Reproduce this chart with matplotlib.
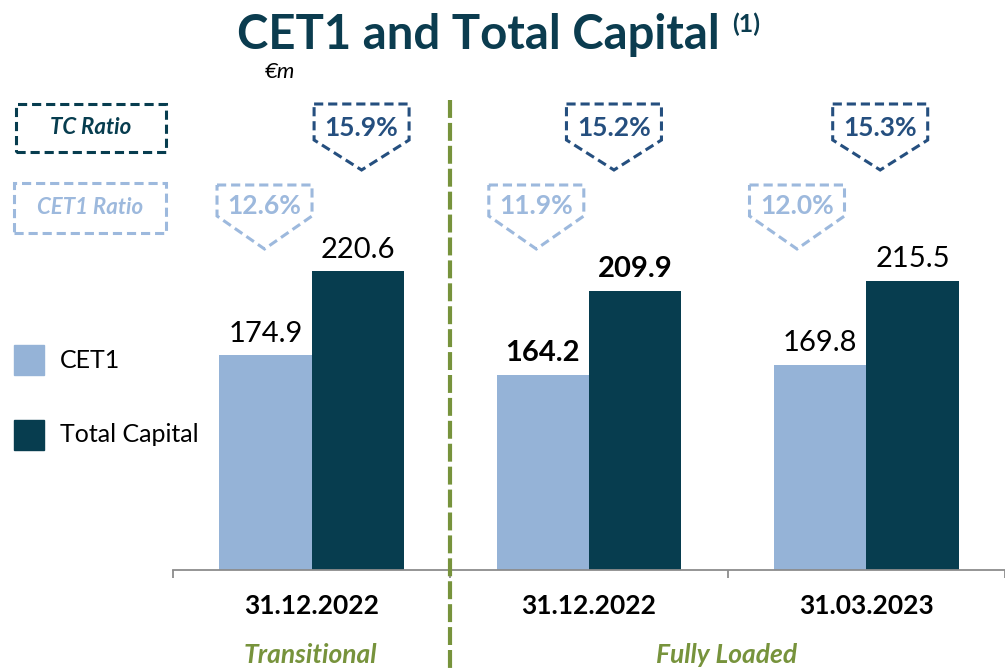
import numpy as np
import matplotlib.pyplot as plt
from matplotlib.patches import Rectangle, Polygon
from matplotlib.lines import Line2D

plt.rcParams['font.family'] = ['Lato', 'DejaVu Sans']

# data
dates = ["31.12.2022", "31.12.2022", "31.03.2023"]
cet1 = [174.9, 164.2, 169.8]
total_capital = [220.6, 209.9, 215.5]
cet1_ratio = ["12.6%", "11.9%", "12.0%"]
tc_ratio = ["15.9%", "15.2%", "15.3%"]
bold_group = [False, True, False]

light_blue = "#95B3D7"
dark_teal = "#073D4F"
title_col = "#0B3C4F"
tc_blue = "#254F7F"
ratio_light = "#9DB9DD"
green = "#77933C"

W, H = 1005, 671
fig = plt.figure(figsize=(W / 100, H / 100), dpi=100)


def fx(px):
    return px / W


def fy(py):
    return 1 - py / H


ax = fig.add_axes([fx(173), fy(570), fx(W - 173), (570 - 90) / H])

x = np.arange(len(dates))
bw = 0.333
ax.bar(x - bw / 2, cet1, bw, color=light_blue)
ax.bar(x + bw / 2, total_capital, bw, color=dark_teal)
ax.set_xlim(-0.5, 2.48)
ax.set_ylim(58, 58 + 480 / 1.838)

for i in range(len(x)):
    fw = "bold" if bold_group[i] else "normal"
    ax.annotate(f"{cet1[i]:.1f}", (x[i] - bw / 2, cet1[i]), xytext=(0, 6),
                textcoords="offset points", ha="center", va="bottom", fontsize=21, fontweight=fw)
    ax.annotate(f"{total_capital[i]:.1f}", (x[i] + bw / 2, total_capital[i]), xytext=(0, 6),
                textcoords="offset points", ha="center", va="bottom", fontsize=21, fontweight=fw)

for s in ["top", "right", "left"]:
    ax.spines[s].set_visible(False)
ax.spines["bottom"].set_color("#8C8C8C")
ax.spines["bottom"].set_linewidth(1.3)
ax.set_yticks([])
ax.set_xticks(x)
ax.set_xticklabels(dates, fontsize=19, fontweight="bold")
ax.tick_params(axis="x", which="major", length=0, pad=17)
ax.set_xticks([-0.5, 0.5, 1.5, 2.5], minor=True)
ax.tick_params(axis="x", which="minor", length=6, width=1.3, color="#8C8C8C")

# pentagon callouts
def pentagon(cx, top, side, tip, width, color, label):
    pts = [(cx - width / 2, top), (cx + width / 2, top), (cx + width / 2, side),
           (cx, tip), (cx - width / 2, side)]
    pts = [(fx(a), fy(b)) for a, b in pts]
    fig.add_artist(Polygon(pts, closed=True, fill=False, edgecolor=color, lw=2.2,
                           linestyle=(0, (3, 1.6)), transform=fig.transFigure))
    fig.text(fx(cx), fy(top + (side - top) * 0.68), label, ha="center", va="center",
             fontsize=19, fontweight="bold", color=color)


tc_off = [0.18, 0.09, 0.05]
cet1_off = [-0.17, -0.19, -0.25]
for i in range(len(x)):
    cx_tc = ax.transData.transform((x[i] + tc_off[i], 0))[0]
    cx_c = ax.transData.transform((x[i] + cet1_off[i], 0))[0]
    pentagon(cx_tc, 104, 140, 170, 95, tc_blue, tc_ratio[i])
    pentagon(cx_c, 185, 216, 249, 95, ratio_light, cet1_ratio[i])

# ratio legend boxes
for (x0, y0, x1, y1), col, lab in [((16, 104, 166, 152), dark_teal, "TC Ratio"),
                                    ((14, 183, 166, 233), ratio_light, "CET1 Ratio")]:
    fig.add_artist(Rectangle((fx(x0), fy(y1)), fx(x1 - x0), (y1 - y0) / H, fill=False,
                             edgecolor=col, lw=2.2, linestyle=(0, (3, 1.6)),
                             transform=fig.transFigure))
    fig.text(fx((x0 + x1) / 2), fy((y0 + y1) / 2), lab, ha="center", va="center",
             fontsize=16, fontweight="bold", style="italic", color=col)

# series legend
for y0, col, lab in [(345, light_blue, "CET1"), (420, dark_teal, "Total Capital")]:
    fig.add_artist(Rectangle((fx(14), fy(y0 + 30)), fx(30), 30 / H, color=col,
                             transform=fig.transFigure))
    fig.text(fx(60), fy(y0 + 15), lab, ha="left", va="center", fontsize=18)

# divider
xd = ax.transData.transform((0.5, 0))[0]
fig.add_artist(Line2D([fx(xd), fx(xd)], [fy(100), 0], color=green, lw=3,
                      dashes=(4.3, 1.2), transform=fig.transFigure))

fig.text(fx(310), fy(655), "Transitional", ha="center", va="center", fontsize=19,
         fontweight="bold", style="italic", color=green)
fig.text(fx(727), fy(655), "Fully Loaded", ha="center", va="center", fontsize=19,
         fontweight="bold", style="italic", color=green)

title = fig.text(fx(478), fy(35), "CET1 and Total Capital", ha="center", va="center",
                 fontsize=34, fontweight="bold", color=title_col)
fig.text(fx(732), fy(24), "(1)", ha="left", va="center", fontsize=18,
         fontweight="bold", color=title_col)
fig.text(fx(265), fy(72), "€m", ha="left", va="center", fontsize=16, style="italic")

fig.savefig("out.png", dpi=100)
